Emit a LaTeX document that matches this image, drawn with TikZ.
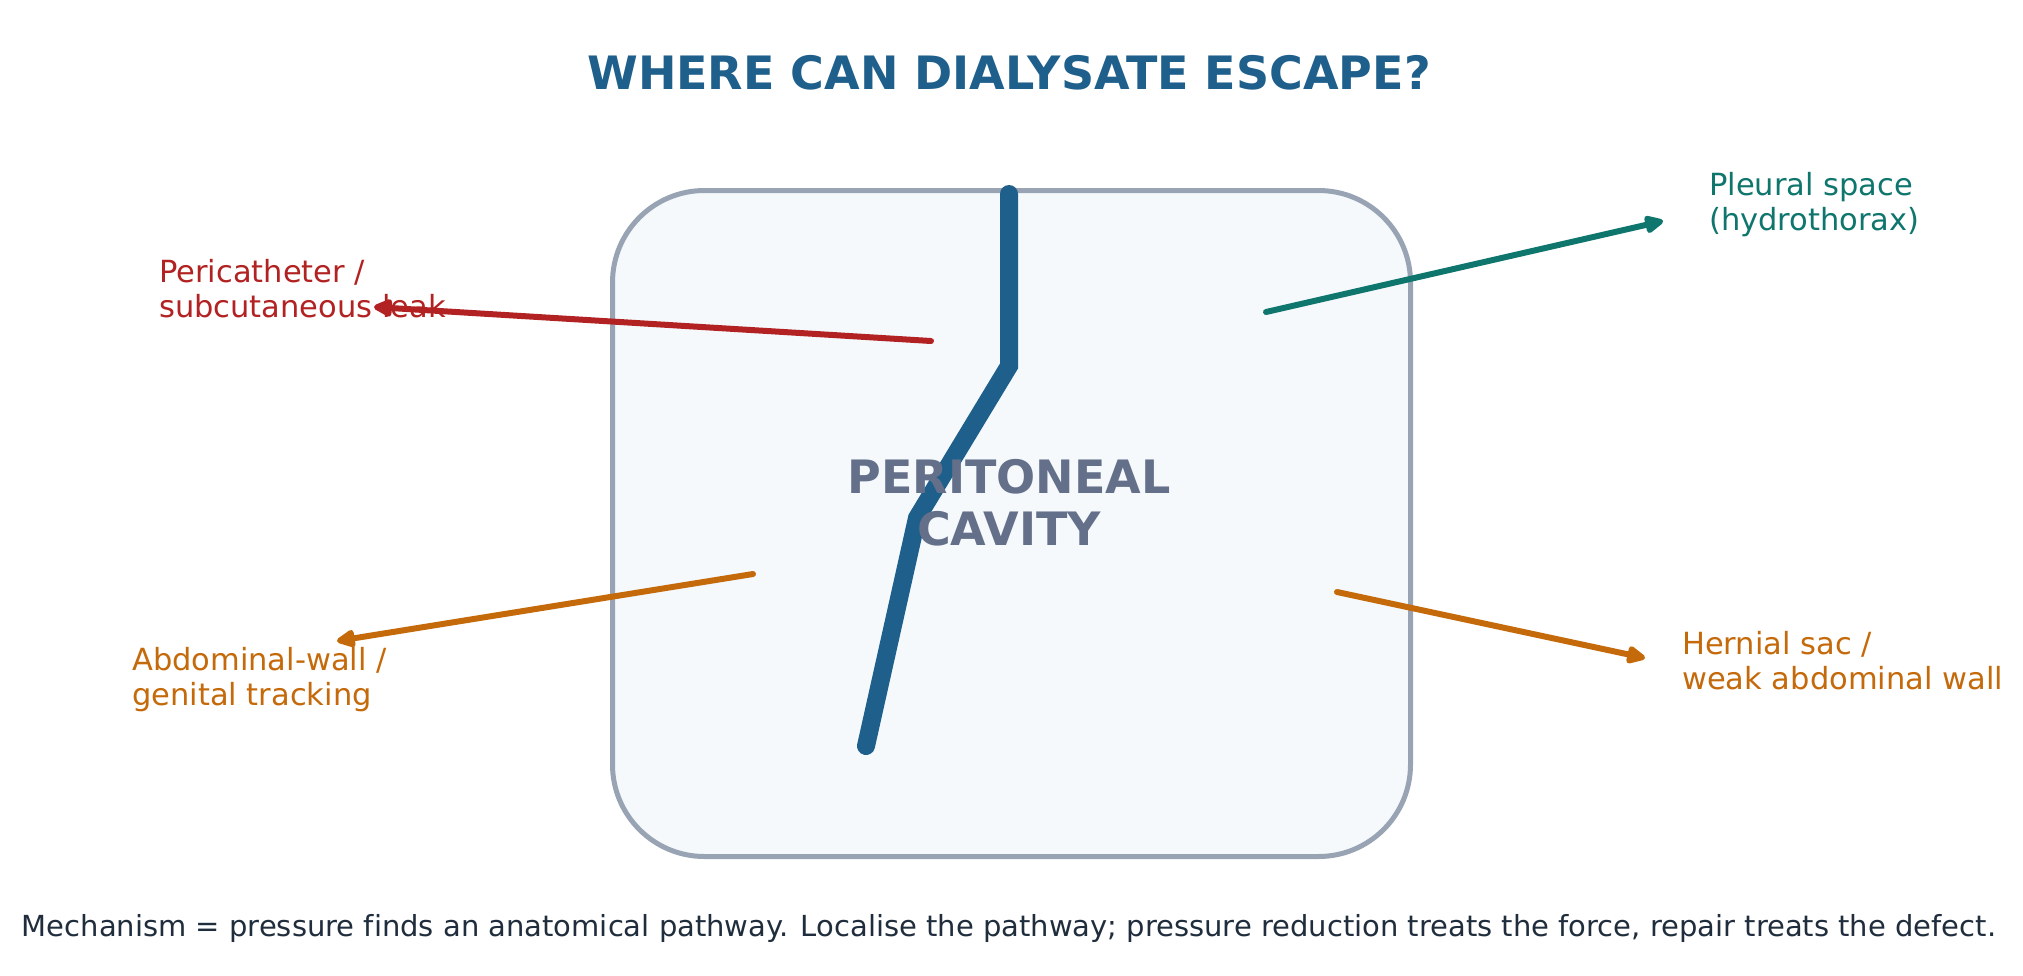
\documentclass[tikz,border=0pt]{standalone}
\usepackage{fontspec}
\setmainfont{DejaVu Sans}[Ligatures=NoCommon]
\usetikzlibrary{arrows.meta}
\definecolor{ttl}{HTML}{1F5F8B}
\definecolor{cred}{HTML}{B22222}
\definecolor{cteal}{HTML}{0F766E}
\definecolor{corange}{HTML}{C56A0B}
\definecolor{boxedge}{HTML}{98A3B4}
\definecolor{boxfill}{HTML}{F5F9FC}
\definecolor{ctr}{HTML}{64708A}
\definecolor{foot}{HTML}{1F2D3D}
\begin{document}
\begin{tikzpicture}[x=1pt,y=-1pt,
  lbl/.style={font=\fontsize{30.5}{34.5}\selectfont, align=left, inner sep=0pt, anchor=base west},
  arr/.style={line width=6pt, line cap=round, -{Triangle[length=22pt,width=19pt,round]}},
  cath/.style={draw=ttl, line width=18pt, line cap=round, line join=miter}]
\useasboundingbox[fill=white] (0,0) rectangle (2023,975);
\node[draw=boxedge, fill=boxfill, line width=5pt, rounded corners=92pt,
  minimum width=798pt, minimum height=666pt, inner sep=0pt, anchor=north west] (box) at (610,188) {};
\coordinate (c0) at (1009,194);
\coordinate (c1) at (1009,366);
\coordinate (c2) at (917,518);
\coordinate (c3) at (866,746);
\draw[cath] (c0) -- (c1) -- (c2) -- (c3);
\node[font=\bfseries\fontsize{46}{52}\selectfont, text=ctr, align=center, inner sep=0pt] (cav) at (1009,503) {PERITONEAL\\CAVITY};
\node[font=\bfseries\fontsize{46}{54}\selectfont, text=ttl, anchor=base, inner sep=0pt] (title) at (1009,89) {WHERE CAN DIALYSATE ESCAPE?};
\node[lbl, text=cred] (peri) at (159,317) {Pericatheter /\\subcutaneous leak};
\node[lbl, text=cteal] (pleu) at (1709,230) {Pleural space\\(hydrothorax)};
\node[lbl, text=corange] (abdo) at (132,705) {Abdominal-wall /\\genital tracking};
\node[lbl, text=corange] (hern) at (1682,689) {Hernial sac /\\weak abdominal wall};
\coordinate (rs) at (931,341);
\coordinate (rt) at (374,307);
\coordinate (ts) at (1266,312);
\coordinate (tt) at (1663,221);
\coordinate (ls) at (753,574);
\coordinate (lt) at (337,641);
\coordinate (hs) at (1337,592);
\coordinate (ht) at (1645,658);
\draw[arr, draw=cred, fill=cred] (rs) -- (rt);
\draw[arr, draw=cteal, fill=cteal] (ts) -- (tt);
\draw[arr, draw=corange, fill=corange] (ls) -- (lt);
\draw[arr, draw=corange, fill=corange] (hs) -- (ht);
\node[font=\fontsize{29}{34}\selectfont, text=foot, anchor=base, inner sep=0pt] (foot) at (1009,936) {Mechanism = pressure finds an anatomical pathway. Localise the pathway; pressure reduction treats the force, repair treats the defect.};
\end{tikzpicture}
\end{document}
